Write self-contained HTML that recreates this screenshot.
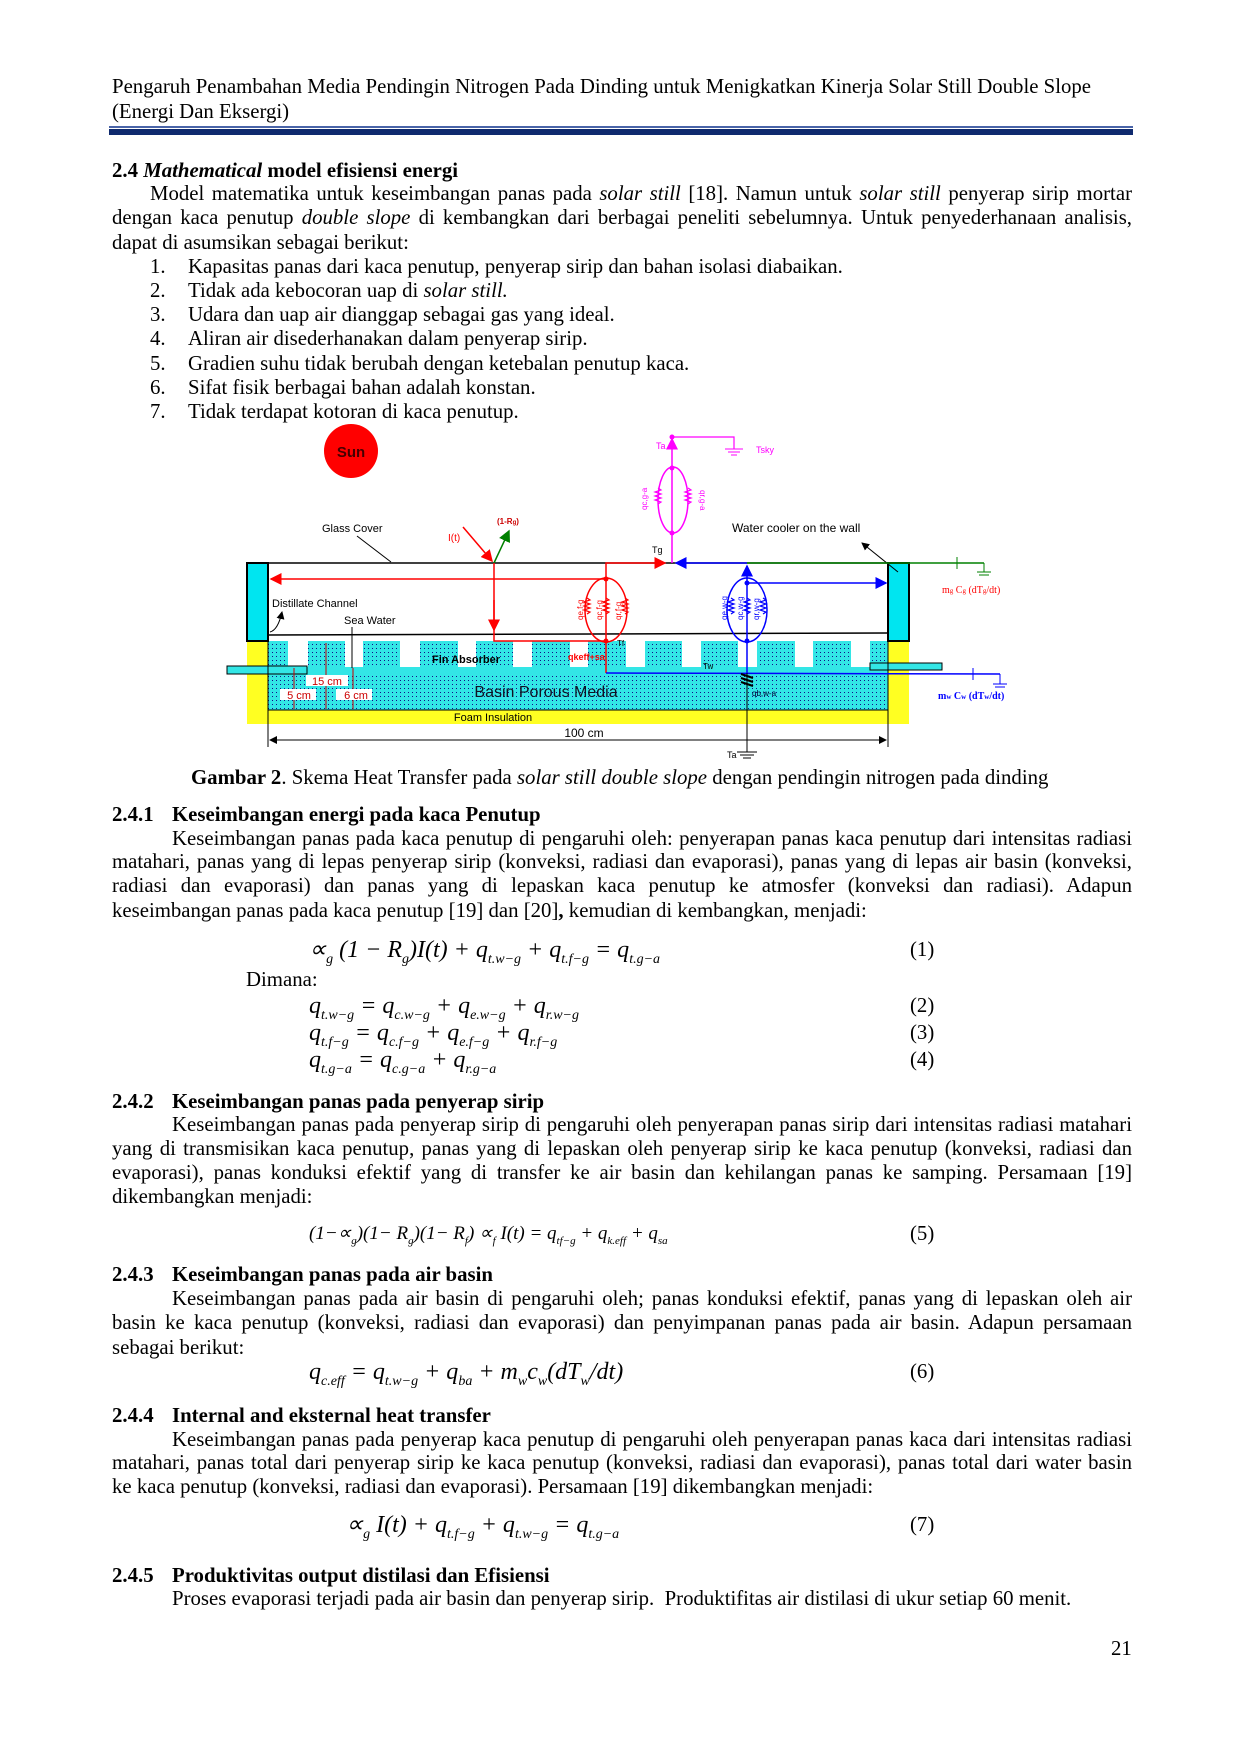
<!DOCTYPE html>
<html><head><meta charset="utf-8"><style>
html,body{margin:0;padding:0;background:#fff}
body{width:1240px;height:1754px;position:relative;overflow:hidden;font-family:"Liberation Serif",serif;font-size:20.8px;color:#000}
.a{position:absolute;white-space:nowrap;line-height:22px}
.j{position:absolute;left:112px;width:1020px;text-align:justify;text-align-last:justify;white-space:nowrap;line-height:22px}
.h{font-weight:bold}
.eq{position:absolute;font-style:italic;font-size:24px;white-space:nowrap;line-height:22px}
.eq sub{font-size:14px}
.n{position:absolute;left:910px;line-height:22px}
</style></head><body>
<div class="a" style="left:112px;top:76px">Pengaruh Penambahan Media Pendingin Nitrogen Pada Dinding untuk Menigkatkan Kinerja Solar Still Double Slope</div>
<div class="a" style="left:112px;top:101px">(Energi Dan Eksergi)</div>
<div style="position:absolute;left:109px;top:126px;width:1024px;height:2px;background:#4a64a8"></div>
<div style="position:absolute;left:109px;top:129px;width:1024px;height:6px;background:#0f2a6e"></div>

<div class="a h" style="left:112px;top:160px">2.4 <i>Mathematical</i> model efisiensi energi</div>
<div class="j" style="left:150px;width:982px;top:183px">Model matematika untuk keseimbangan panas pada <i>solar still</i> [18]. Namun untuk <i>solar still</i> penyerap sirip mortar</div>
<div class="j" style="top:207px">dengan kaca penutup <i>double slope</i> di kembangkan dari berbagai peneliti sebelumnya. Untuk penyederhanaan analisis,</div>
<div class="a" style="left:112px;top:232px">dapat di asumsikan sebagai berikut:</div>
<div class="a" style="left:150px;top:256px">1.</div><div class="a" style="left:188px;top:256px">Kapasitas panas dari kaca penutup, penyerap sirip dan bahan isolasi diabaikan.</div>
<div class="a" style="left:150px;top:280px">2.</div><div class="a" style="left:188px;top:280px">Tidak ada kebocoran uap di <i>solar still.</i></div>
<div class="a" style="left:150px;top:304px">3.</div><div class="a" style="left:188px;top:304px">Udara dan uap air dianggap sebagai gas yang ideal.</div>
<div class="a" style="left:150px;top:328px">4.</div><div class="a" style="left:188px;top:328px">Aliran air disederhanakan dalam penyerap sirip.</div>
<div class="a" style="left:150px;top:353px">5.</div><div class="a" style="left:188px;top:353px">Gradien suhu tidak berubah dengan ketebalan penutup kaca.</div>
<div class="a" style="left:150px;top:377px">6.</div><div class="a" style="left:188px;top:377px">Sifat fisik berbagai bahan adalah konstan.</div>
<div class="a" style="left:150px;top:401px">7.</div><div class="a" style="left:188px;top:401px">Tidak terdapat kotoran di kaca penutup.</div>

<svg style="position:absolute;left:0;top:0" width="1240" height="800" font-family="Liberation Sans, sans-serif">
<defs>
<pattern id="dots" width="4" height="4" patternUnits="userSpaceOnUse"><rect width="4" height="4" fill="#33e6e6"/><rect width="1" height="1" fill="#118"/></pattern>
<marker id="ar" markerWidth="8" markerHeight="8" refX="7" refY="4" orient="auto"><path d="M0,0 L8,4 L0,8z" fill="red"/></marker>
<marker id="ab" markerWidth="8" markerHeight="8" refX="7" refY="4" orient="auto"><path d="M0,0 L8,4 L0,8z" fill="blue"/></marker>
<marker id="ag" markerWidth="8" markerHeight="8" refX="7" refY="4" orient="auto"><path d="M0,0 L8,4 L0,8z" fill="green"/></marker>
<marker id="am" markerWidth="8" markerHeight="8" refX="7" refY="4" orient="auto"><path d="M0,0 L8,4 L0,8z" fill="magenta"/></marker>
<marker id="ak" markerWidth="8" markerHeight="8" refX="7" refY="4" orient="auto"><path d="M0,0 L8,4 L0,8z" fill="#000"/></marker>
<marker id="ak2" markerWidth="8" markerHeight="8" refX="1" refY="4" orient="auto"><path d="M8,0 L0,4 L8,8z" fill="#000"/></marker>
</defs>
<ellipse cx="351" cy="451" rx="27" ry="27" fill="#f00"/>
<text x="351" y="457" font-size="15" font-weight="bold" text-anchor="middle" fill="#400">Sun</text>
<rect x="247" y="641" width="662" height="83" fill="#ffff22"/>
<rect x="268" y="641" width="620" height="69" fill="url(#dots)"/>
<g fill="#fff">
<rect x="288" y="641" width="20" height="26"/><rect x="345" y="641" width="18" height="26"/><rect x="400" y="641" width="20" height="26"/><rect x="458" y="641" width="18" height="26"/><rect x="513" y="641" width="19" height="26"/><rect x="570" y="641" width="18" height="26"/><rect x="626" y="641" width="19" height="26"/><rect x="682" y="641" width="19" height="26"/><rect x="738" y="641" width="19" height="26"/><rect x="795" y="641" width="18" height="26"/><rect x="851" y="641" width="19" height="26"/>
</g>
<g fill="#33e6e6"><rect x="268" y="667" width="620" height="6"/></g>
<rect x="227" y="666" width="80" height="8" fill="#33e6e6" stroke="#000" stroke-width="1"/>
<rect x="870" y="663" width="72" height="7" fill="#33e6e6" stroke="#000" stroke-width="1"/>
<line x1="268" y1="710" x2="888" y2="710" stroke="#000"/>
<rect x="247" y="563" width="21" height="78" fill="#00e5f0" stroke="#000" stroke-width="2"/>
<rect x="888" y="563" width="21" height="78" fill="#00e5f0" stroke="#000" stroke-width="2"/>
<line x1="268" y1="563" x2="888" y2="563" stroke="#000" stroke-width="1.5"/>
<line x1="268" y1="635" x2="888" y2="633" stroke="#000" stroke-width="1.5"/>
<line x1="268" y1="641" x2="268" y2="747" stroke="#000"/>
<line x1="888" y1="641" x2="888" y2="747" stroke="#000"/>
<line x1="270" y1="740" x2="886" y2="740" stroke="#000" marker-end="url(#ak)" marker-start="url(#ak2)"/>
<text x="584" y="737" font-size="12" text-anchor="middle">100 cm</text>
<text x="493" y="721" font-size="11" text-anchor="middle">Foam Insulation</text>
<text x="546" y="697" font-size="16" text-anchor="middle" fill="#112">Basin Porous Media</text>
<text x="466" y="663" font-size="11" font-weight="bold" text-anchor="middle">Fin Absorber</text>
<g stroke="#c00" fill="none"><line x1="326" y1="643" x2="326" y2="709"/><line x1="294" y1="668" x2="294" y2="709"/><line x1="353" y1="668" x2="353" y2="709"/></g>
<rect x="306" y="675" width="42" height="11" fill="#fff"/><text x="327" y="685" font-size="11" fill="#c00" text-anchor="middle">15 cm</text>
<rect x="280" y="689" width="36" height="11" fill="#fff"/><text x="299" y="699" font-size="11" fill="#c00" text-anchor="middle">5 cm</text>
<rect x="336" y="689" width="36" height="11" fill="#fff"/><text x="356" y="699" font-size="11" fill="#c00" text-anchor="middle">6 cm</text>
<text x="322" y="532" font-size="11">Glass Cover</text>
<line x1="357" y1="536" x2="391" y2="562" stroke="#000"/>
<text x="732" y="532" font-size="12">Water cooler on the wall</text>
<line x1="898" y1="572" x2="862" y2="543" stroke="#000" marker-end="url(#ak)"/>
<text x="272" y="607" font-size="11">Distillate Channel</text>
<path d="M270 632 Q278 630 282 612" stroke="#000" fill="none" marker-end="url(#ak)"/>
<text x="344" y="624" font-size="11">Sea Water</text>
<line x1="352" y1="627" x2="352" y2="668" stroke="#000"/>
<line x1="463" y1="527" x2="492" y2="561" stroke="red" stroke-width="1.5" marker-end="url(#ar)"/>
<line x1="494" y1="563" x2="509" y2="531" stroke="green" stroke-width="1.5" marker-end="url(#ag)"/>
<text x="448" y="541" font-size="10" fill="red">I(t)</text>
<text x="497" y="524" font-size="8" fill="#c00" font-weight="bold">(1-R<tspan font-size="6">g</tspan>)</text>
<polyline points="494,563 494,641 606,641" stroke="red" stroke-width="1.5" fill="none"/>
<line x1="494" y1="600" x2="494" y2="630" stroke="red" stroke-width="1.5" marker-end="url(#ar)"/>
<line x1="606" y1="579" x2="271" y2="579" stroke="red" stroke-width="1.5" marker-end="url(#ar)"/>
<ellipse cx="606" cy="610" rx="21" ry="32" stroke="red" stroke-width="1.5" fill="none"/>
<line x1="606" y1="578" x2="606" y2="673" stroke="red" stroke-width="1.5"/>
<polyline points="606,579 606,563 665,563" stroke="red" stroke-width="1.5" fill="none" marker-end="url(#ar)"/>
<g stroke="red" fill="none" stroke-width="1.2"><path d="M587 598 l3 2 -6 2 6 2 -6 2 6 2 -6 2 6 2 -3 2"/><path d="M606 598 l3 2 -6 2 6 2 -6 2 6 2 -6 2 6 2 -3 2"/><path d="M625 598 l3 2 -6 2 6 2 -6 2 6 2 -6 2 6 2 -3 2"/></g>
<g font-size="8" fill="red"><text transform="translate(583,620) rotate(-90)">qe,f-g</text><text transform="translate(602,620) rotate(-90)">qc,f-g</text><text transform="translate(621,620) rotate(-90)">qr,f-g</text></g>
<circle cx="606" cy="579" r="2.5" fill="red"/><circle cx="606" cy="641" r="2.5" fill="red"/>
<text x="568" y="660" font-size="9" fill="red" font-weight="bold">qkeff+sa</text>
<text x="617" y="646" font-size="8">Tf</text>
<line x1="672" y1="563" x2="672" y2="468" stroke="magenta" stroke-width="1.5"/>
<ellipse cx="673" cy="500" rx="15" ry="33" stroke="magenta" stroke-width="1.5" fill="none"/>
<line x1="672" y1="468" x2="672" y2="439" stroke="magenta" stroke-width="1.5" marker-end="url(#am)"/>
<polyline points="672,437 734,437 734,449" stroke="magenta" stroke-width="1.2" fill="none"/>
<g stroke="magenta"><line x1="725" y1="449" x2="743" y2="449"/><line x1="728" y1="452" x2="740" y2="452"/><line x1="731" y1="455" x2="737" y2="455"/></g>
<g stroke="magenta" fill="none" stroke-width="1.2"><path d="M658 488 l3 2 -6 2 6 2 -6 2 6 2 -6 2 6 2 -3 2"/><path d="M688 488 l3 2 -6 2 6 2 -6 2 6 2 -6 2 6 2 -3 2"/></g>
<g font-size="8" fill="magenta"><text transform="translate(647,510) rotate(-90)">qc,g-a</text><text transform="translate(700,490) rotate(90)">qr,g-a</text></g>
<circle cx="672" cy="468" r="2.5" fill="magenta"/><circle cx="672" cy="533" r="2.5" fill="magenta"/><circle cx="672" cy="437" r="2.5" fill="magenta"/>
<text x="656" y="449" font-size="9" fill="magenta">Ta</text>
<text x="756" y="453" font-size="9" fill="magenta">Tsky</text>
<text x="652" y="553" font-size="9">Tg</text>
<line x1="747" y1="563" x2="676" y2="563" stroke="blue" stroke-width="1.5" marker-end="url(#ab)"/>
<line x1="747" y1="673" x2="747" y2="566" stroke="blue" stroke-width="1.5" marker-end="url(#ab)"/>
<ellipse cx="747" cy="610" rx="20" ry="32" stroke="blue" stroke-width="1.5" fill="none"/>
<line x1="747" y1="583" x2="886" y2="583" stroke="blue" stroke-width="1.5" marker-end="url(#ab)"/>
<g stroke="blue" fill="none" stroke-width="1.2"><path d="M731 598 l3 2 -6 2 6 2 -6 2 6 2 -6 2 6 2 -3 2"/><path d="M747 598 l3 2 -6 2 6 2 -6 2 6 2 -6 2 6 2 -3 2"/><path d="M763 598 l3 2 -6 2 6 2 -6 2 6 2 -6 2 6 2 -3 2"/></g>
<g font-size="8" fill="blue"><text transform="translate(727,620) rotate(-90)">qe,w-g</text><text transform="translate(743,620) rotate(-90)">qc,w-g</text><text transform="translate(759,620) rotate(-90)">qr,w-g</text></g>
<circle cx="747" cy="583" r="2.5" fill="blue"/><circle cx="747" cy="641" r="2.5" fill="blue"/>
<line x1="606" y1="673" x2="1000" y2="674" stroke="blue" stroke-width="1.5"/>
<line x1="973" y1="668" x2="973" y2="680" stroke="blue"/>
<g stroke="blue"><line x1="1000" y1="674" x2="1000" y2="684"/><line x1="993" y1="684" x2="1007" y2="684"/><line x1="995" y1="687" x2="1005" y2="687"/></g>
<text x="938" y="699" font-size="10" fill="blue" font-family="Liberation Serif" font-weight="bold">m<tspan font-size="7">w</tspan> C<tspan font-size="7">w</tspan> (dT<tspan font-size="7">w</tspan>/dt)</text>
<text x="703" y="669" font-size="8">Tw</text>
<text x="752" y="696" font-size="8" fill="#003">qb,w-a</text>
<line x1="747" y1="563" x2="984" y2="563" stroke="green" stroke-width="1.5"/>
<line x1="957" y1="557" x2="957" y2="569" stroke="green"/>
<g stroke="green"><line x1="984" y1="563" x2="984" y2="572"/><line x1="977" y1="572" x2="991" y2="572"/><line x1="979" y1="575" x2="989" y2="575"/></g>
<text x="942" y="593" font-size="10" fill="red" font-family="Liberation Serif">m<tspan font-size="7">g</tspan> C<tspan font-size="7">g</tspan> (dT<tspan font-size="7">g</tspan>/dt)</text>
<line x1="747" y1="673" x2="747" y2="752" stroke="#000"/>
<g stroke="#000" stroke-width="2"><line x1="741" y1="674" x2="753" y2="678"/><line x1="741" y1="678" x2="753" y2="682"/><line x1="741" y1="682" x2="753" y2="686"/></g>
<g stroke="#000"><line x1="737" y1="752" x2="757" y2="752"/><line x1="740" y1="755" x2="754" y2="755"/><line x1="743" y1="758" x2="751" y2="758"/></g>
<text x="727" y="758" font-size="9">Ta</text>
</svg>

<div class="a" style="left:191px;top:767px"><b>Gambar 2</b>. Skema Heat Transfer pada <i>solar still double slope</i> dengan pendingin nitrogen pada dinding</div>

<div class="a h" style="left:112px;top:804px">2.4.1</div><div class="a h" style="left:172px;top:804px">Keseimbangan energi pada kaca Penutup</div>
<div class="j" style="left:172px;width:960px;top:828px">Keseimbangan panas pada kaca penutup di pengaruhi oleh: penyerapan panas kaca penutup dari intensitas radiasi</div>
<div class="j" style="top:851px">matahari, panas yang di lepas penyerap sirip (konveksi, radiasi dan evaporasi), panas yang di lepas air basin (konveksi,</div>
<div class="j" style="top:875px">radiasi dan evaporasi) dan panas yang di lepaskan kaca penutup ke atmosfer (konveksi dan radiasi). Adapun</div>
<div class="a" style="left:112px;top:900px">keseimbangan panas pada kaca penutup [19] dan [20]<b>,</b> kemudian di kembangkan, menjadi:</div>
<div class="eq" style="left:309px;top:939px">∝<sub>g</sub> (1 − R<sub>g</sub>)I(t) + q<sub>t.w−g</sub> + q<sub>t.f−g</sub> = q<sub>t.g−a</sub></div><div class="n" style="top:939px">(1)</div>
<div class="a" style="left:246px;top:969px">Dimana:</div>
<div class="eq" style="left:309px;top:995px">q<sub>t.w−g</sub> = q<sub>c.w−g</sub> + q<sub>e.w−g</sub> + q<sub>r.w−g</sub></div><div class="n" style="top:995px">(2)</div>
<div class="eq" style="left:309px;top:1022px">q<sub>t.f−g</sub> = q<sub>c.f−g</sub> + q<sub>e.f−g</sub> + q<sub>r.f−g</sub></div><div class="n" style="top:1022px">(3)</div>
<div class="eq" style="left:309px;top:1049px">q<sub>t.g−a</sub> = q<sub>c.g−a</sub> + q<sub>r.g−a</sub></div><div class="n" style="top:1049px">(4)</div>

<div class="a h" style="left:112px;top:1091px">2.4.2</div><div class="a h" style="left:172px;top:1091px">Keseimbangan panas pada penyerap sirip</div>
<div class="j" style="left:172px;width:960px;top:1114px">Keseimbangan panas pada penyerap sirip di pengaruhi oleh penyerapan panas sirip dari intensitas radiasi matahari</div>
<div class="j" style="top:1138px">yang di transmisikan kaca penutup, panas yang di lepaskan oleh penyerap sirip ke kaca penutup (konveksi, radiasi dan</div>
<div class="j" style="top:1162px">evaporasi), panas konduksi efektif yang di transfer ke air basin dan kehilangan panas ke samping. Persamaan [19]</div>
<div class="a" style="left:112px;top:1186px">dikembangkan menjadi:</div>
<div class="eq" style="left:309px;top:1223px;font-size:19px">(1−∝<sub style="font-size:11px">g</sub>)(1− R<sub style="font-size:11px">g</sub>)(1− R<sub style="font-size:11px">f</sub>) ∝<sub style="font-size:11px">f</sub> I(t) = q<sub style="font-size:11px">tf−g</sub> + q<sub style="font-size:11px">k.eff</sub> + q<sub style="font-size:11px">sa</sub></div><div class="n" style="top:1223px">(5)</div>

<div class="a h" style="left:112px;top:1264px">2.4.3</div><div class="a h" style="left:172px;top:1264px">Keseimbangan panas pada air basin</div>
<div class="j" style="left:172px;width:960px;top:1288px">Keseimbangan panas pada air basin di pengaruhi oleh; panas konduksi efektif, panas yang di lepaskan oleh air</div>
<div class="j" style="top:1312px">basin ke kaca penutup (konveksi, radiasi dan evaporasi) dan penyimpanan panas pada air basin. Adapun persamaan</div>
<div class="a" style="left:112px;top:1337px">sebagai berikut:</div>
<div class="eq" style="left:309px;top:1361px">q<sub>c.eff</sub> = q<sub>t.w−g</sub> + q<sub>ba</sub> + m<sub>w</sub>c<sub>w</sub>(dT<sub>w</sub>/dt)</div><div class="n" style="top:1361px">(6)</div>

<div class="a h" style="left:112px;top:1405px">2.4.4</div><div class="a h" style="left:172px;top:1405px">Internal and eksternal heat transfer</div>
<div class="j" style="left:172px;width:960px;top:1429px">Keseimbangan panas pada penyerap kaca penutup di pengaruhi oleh penyerapan panas kaca dari intensitas radiasi</div>
<div class="j" style="top:1452px">matahari, panas total dari penyerap sirip ke kaca penutup (konveksi, radiasi dan evaporasi), panas total dari water basin</div>
<div class="a" style="left:112px;top:1476px">ke kaca penutup (konveksi, radiasi dan evaporasi). Persamaan [19] dikembangkan menjadi:</div>
<div class="eq" style="left:346px;top:1514px">∝<sub>g</sub> I(t) + q<sub>t.f−g</sub> + q<sub>t.w−g</sub> = q<sub>t.g−a</sub></div><div class="n" style="top:1514px">(7)</div>

<div class="a h" style="left:112px;top:1565px">2.4.5</div><div class="a h" style="left:172px;top:1565px">Produktivitas output distilasi dan Efisiensi</div>
<div class="a" style="left:172px;top:1588px">Proses evaporasi terjadi pada air basin dan penyerap sirip.&nbsp; Produktifitas air distilasi di ukur setiap 60 menit.</div>
<div class="a" style="left:1111px;top:1638px">21</div>
</body></html>
